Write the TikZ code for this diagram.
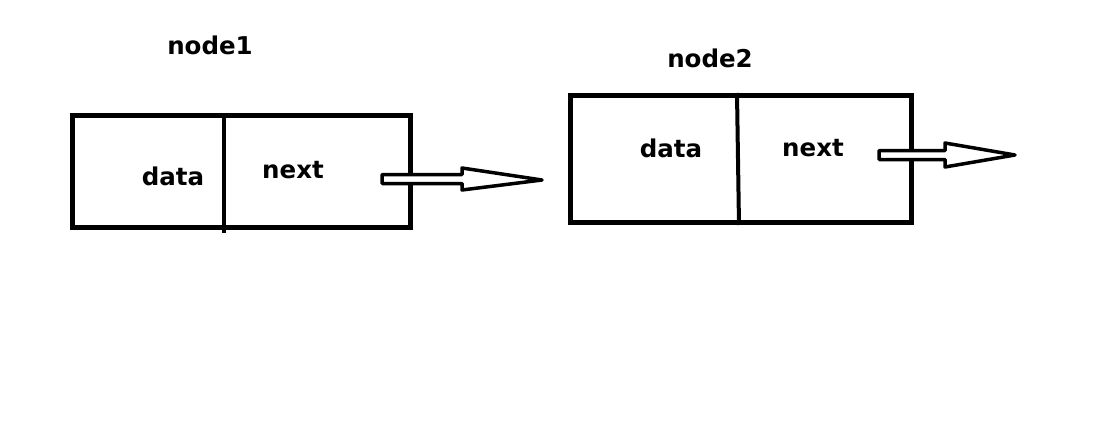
\documentclass[tikz,border=0pt]{standalone}
\usepackage{fontspec}
\setmainfont{DejaVu Sans}
\begin{document}
\begin{tikzpicture}[x=1pt,y=-1pt,
  box/.style={draw=black,line width=5pt,minimum width=#1,inner sep=0pt,outer sep=0pt},
  lbl/.style={font=\fontsize{24.5}{28}\selectfont\bfseries,inner sep=0pt},
  divider/.style={line width=4pt},
  hollow/.style={draw=black,line width=3.5pt,line join=round,fill=white}]
\fill[white] (0,0) rectangle (1101,428);
\useasboundingbox (0,0) rectangle (1101,428);
% node 1
\node[box=338pt,minimum height=112pt] (b1) at (241,171) {};
\coordinate (d1t) at (224,115);
\coordinate (d1b) at (224,233);
\draw[divider] (d1t) -- (d1b);
\node[lbl] (t1) at (210,45) {node1};
\node[lbl] (data1) at (173,176) {data};
\node[lbl] (next1) at (293,170) {next};
% node 2
\node[box=341pt,minimum height=126pt] (b2) at (740.5,159) {};
\coordinate (d2t) at (737,93);
\coordinate (d2b) at (739,225);
\draw[divider] (d2t) -- (d2b);
\node[lbl] (t2) at (710,58) {node2};
\node[lbl] (data2) at (671,148) {data};
\node[lbl] (next2) at (813,148) {next};
% arrow 1
\coordinate (a1s) at (382,179);
\coordinate (a1e) at (542,180);
\draw[hollow] (a1s) ++(0,-4.5) -- ++(80,0) -- ++(0,-6.5) -- (a1e) -- (462,190) -- (462,183.5) -- (382,183.5) -- cycle;
% arrow 2
\coordinate (a2s) at (879,155);
\coordinate (a2e) at (1015,155);
\draw[hollow] (a2s) ++(0,-4.5) -- ++(66,0) -- ++(0,-7.5) -- (a2e) -- (945,167) -- (945,159.5) -- (879,159.5) -- cycle;
\end{tikzpicture}
\end{document}
